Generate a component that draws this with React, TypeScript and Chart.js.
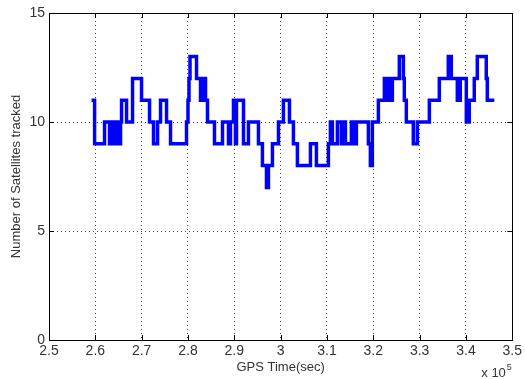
import React, { useEffect, useRef } from "react";
import { Chart, registerables } from "chart.js";

Chart.register(...registerables);

// GPS time (s) at which the tracked-satellite count changes, and the count from that time on
const gpsTime = [
  259190, 259840, 261990, 263070, 263400, 264150, 264580, 265120, 265440, 265660,
  266740, 268030, 269970, 271700, 272560, 273430, 274070, 275370, 276230, 279680,
  280000, 280220, 280440, 281840, 282700, 282920, 283350, 283560, 283780, 284210,
  285720, 287450, 288740, 289170, 289820, 290250, 290470, 291980, 293050, 295210,
  296070, 296940, 297370, 298230, 299530, 300600, 301900, 302760, 303620, 306430,
  307720, 310310, 310740, 311170, 312250, 313110, 313550, 313980, 315270, 315920,
  316350, 318940, 319370, 319800, 321100, 322390, 323040, 323470, 323680, 324120,
  325620, 326490, 326700, 327130, 328640, 329510, 332100, 334250, 336190, 336840,
  338140, 338780, 340080, 340720, 341800, 342450, 344390, 344610, 346120,
];
const satellites = [
  11, 9, 10, 9, 10, 9, 10, 9, 10, 11,
  10, 12, 11, 10, 9, 10, 11, 10, 9, 10,
  11, 12, 13, 12, 11, 12, 11, 12, 11, 10,
  9, 10, 9, 10, 11, 9, 11, 9, 10, 9,
  8, 7, 8, 9, 10, 11, 10, 9, 8, 9,
  8, 9, 10, 9, 10, 9, 10, 9, 10, 9,
  10, 9, 8, 10, 11, 12, 11, 12, 11, 12,
  13, 12, 11, 10, 9, 10, 11, 12, 13, 12,
  11, 12, 10, 11, 12, 13, 12, 11, 11,
];

const xTicks = [250000, 260000, 270000, 280000, 290000, 300000, 310000, 320000, 330000, 340000, 350000];
const yTicks = [0, 5, 10, 15];
const xExponent = 5;

const FONT = "'Liberation Sans', Arial, Helvetica, sans-serif";

// Box around the axes, inward tick marks and the "x 10^5" multiplier
const framePlugin = {
  id: "frame",
  afterDatasetsDraw(chart: any) {
    const { ctx, chartArea } = chart;
    const { left, right, top, bottom } = chartArea;
    const xs = chart.scales.x;
    const ys = chart.scales.y;
    ctx.save();
    ctx.strokeStyle = "#000";
    ctx.lineWidth = 1;
    ctx.beginPath();
    for (const v of xTicks) {
      const px = Math.round(xs.getPixelForValue(v)) + 0.5;
      ctx.moveTo(px, bottom);
      ctx.lineTo(px, bottom - 5);
      ctx.moveTo(px, top);
      ctx.lineTo(px, top + 5);
    }
    for (const v of yTicks) {
      const py = Math.round(ys.getPixelForValue(v)) + 0.5;
      ctx.moveTo(left, py);
      ctx.lineTo(left + 5, py);
      ctx.moveTo(right, py);
      ctx.lineTo(right - 5, py);
    }
    ctx.stroke();
    ctx.strokeRect(Math.round(left) + 0.5, Math.round(top) + 0.5, Math.round(right - left), Math.round(bottom - top));

    ctx.fillStyle = "#333";
    ctx.textBaseline = "alphabetic";
    ctx.textAlign = "left";
    ctx.font = `13px ${FONT}`;
    const base = "x 10";
    const bx = right - 31;
    const by = bottom + 37;
    ctx.fillText(base, bx, by);
    const w = ctx.measureText(base).width;
    ctx.font = `9px ${FONT}`;
    ctx.fillText(String(xExponent), bx + w + 1, by - 7);
    ctx.restore();
  },
};

export default function App() {
  const canvasRef = useRef<HTMLCanvasElement | null>(null);

  useEffect(() => {
    document.body.style.margin = "0";
    const canvas = canvasRef.current;
    if (!canvas) return;
    const points = gpsTime.map((t, i) => ({ x: t, y: satellites[i] }));

    const chart = new Chart(canvas, {
      type: "line",
      data: {
        datasets: [
          {
            data: points,
            stepped: true,
            borderColor: "#0000ff",
            borderWidth: 3.5,
            pointRadius: 0,
            fill: false,
            borderJoinStyle: "miter",
          },
        ],
      },
      options: {
        responsive: false,
        animation: false,
        devicePixelRatio: 1,
        layout: { padding: { top: 13, right: 12, left: 0, bottom: 0 } },
        plugins: {
          legend: { display: false },
          tooltip: { enabled: false },
        },
        scales: {
          x: {
            type: "linear",
            min: 250000,
            max: 350000,
            afterBuildTicks: (scale: any) => {
              scale.ticks = xTicks.map((v) => ({ value: v }));
            },
            afterFit: (scale: any) => {
              scale.height = 39;
            },
            ticks: {
              padding: 3,
              maxRotation: 0,
              autoSkip: false,
              color: "#333",
              font: { family: FONT, size: 14 },
              callback: (v: any) => String(Number((Number(v) / Math.pow(10, xExponent)).toFixed(1))),
            },
            grid: {
              color: (c: any) => (c.index === 0 || c.index === xTicks.length - 1 ? "rgba(0,0,0,0)" : "#444"),
              lineWidth: 1,
              drawTicks: false,
            },
            border: { display: false, dash: [1, 3] },
            title: {
              display: true,
              text: "GPS Time(sec)",
              color: "#333",
              font: { family: FONT, size: 13 },
              padding: { top: 0, bottom: 4 },
            },
          },
          y: {
            type: "linear",
            min: 0,
            max: 15,
            afterBuildTicks: (scale: any) => {
              scale.ticks = yTicks.map((v) => ({ value: v }));
            },
            afterFit: (scale: any) => {
              scale.width = 49;
            },
            ticks: {
              padding: 4,
              color: "#333",
              font: { family: FONT, size: 14 },
            },
            grid: {
              color: (c: any) => (c.index === 0 || c.index === yTicks.length - 1 ? "rgba(0,0,0,0)" : "#444"),
              lineWidth: 1,
              drawTicks: false,
            },
            border: { display: false, dash: [1, 3] },
            title: {
              display: true,
              text: "Number of Satellites tracked",
              color: "#333",
              font: { family: FONT, size: 13 },
              padding: { top: 9, bottom: 0 },
            },
          },
        },
      },
      plugins: [framePlugin],
    });

    return () => chart.destroy();
  }, []);

  return (
    <div style={{ width: 525, height: 379, background: "#fff" }}>
      <canvas ref={canvasRef} width={525} height={379} />
    </div>
  );
}
